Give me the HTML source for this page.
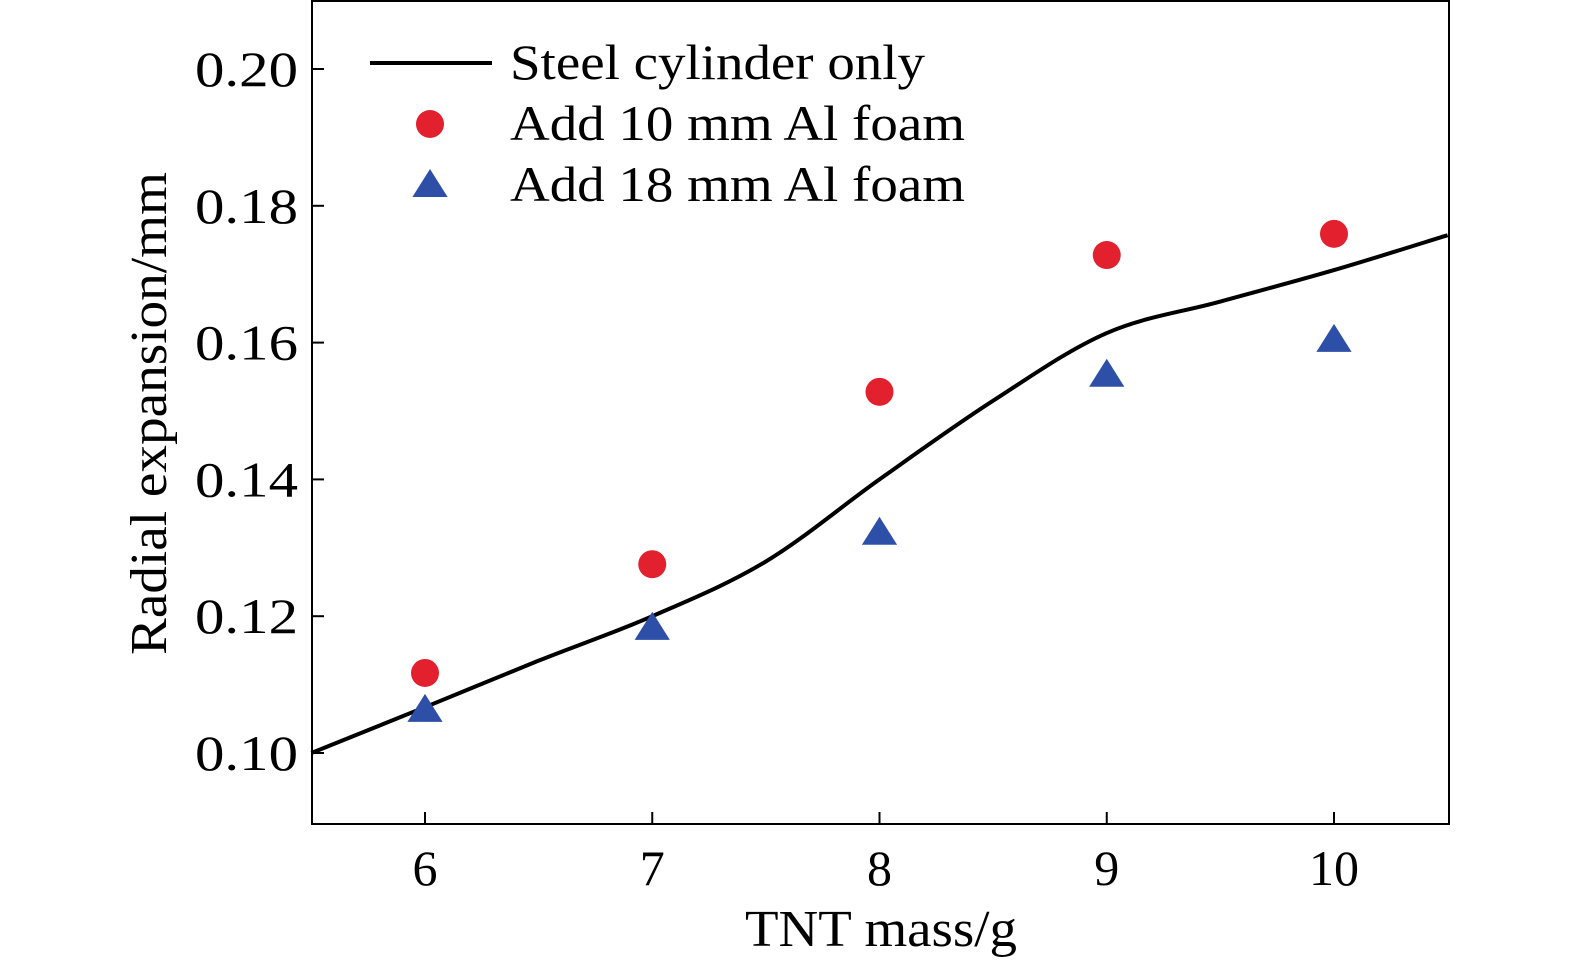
<!DOCTYPE html>
<html><head><meta charset="utf-8"><style>
html,body{margin:0;padding:0;background:#fff;}
svg{display:block;font-family:"Liberation Serif",serif;}
</style></head><body>
<svg id="chart" width="1575" height="966">
<g id="plot"></g>
</svg>
<script>
const lineX=[5.5,6,6.5,7,7.5,8,8.5,9,9.5,10,10.5];
const lineY=[0.100,0.1067,0.1135,0.1200,0.1280,0.1400,0.1515,0.1614,0.1660,0.1706,0.1757];
const massX=[6,7,8,9,10];
const al10=[0.1117,0.1276,0.1528,0.1728,0.1759];
const al18=[0.1063,0.1183,0.1322,0.1553,0.1604];
const xTicks=[6,7,8,9,10];
const yTicks=[0.10,0.12,0.14,0.16,0.18,0.20];
const yTickLabels=["0.10","0.12","0.14","0.16","0.18","0.20"];

const L=312,R=1449,T=1,B=824;
const sx=v=>425+(v-6)*227.25;
const sy=v=>753-(v-0.10)*6840;
const NS="http://www.w3.org/2000/svg";
const g=document.getElementById('plot');
function mk(tag,attrs,parent){const e=document.createElementNS(NS,tag);for(const k in attrs)e.setAttribute(k,attrs[k]);(parent||g).appendChild(e);return e;}

const frame=mk('rect',{x:L,y:T,width:R-L,height:B-T,fill:'none',stroke:'#000','stroke-width':2});



xTicks.forEach(v=>{
  const t=mk('line',{x1:sx(v),x2:sx(v),y1:B,y2:B-12,stroke:'#000','stroke-width':2});
  
  
  const l=mk('text',{x:sx(v),y:885,'font-size':50,'text-anchor':'middle'});
  l.textContent=v;
  
  
});
yTicks.forEach((v,i)=>{
  const t=mk('line',{x1:L,x2:L+12,y1:sy(v),y2:sy(v),stroke:'#000','stroke-width':2});
  
  
  const l=mk('text',{x:195,y:sy(v)+17,'font-size':50,textLength:103,lengthAdjust:'spacingAndGlyphs'});
  l.textContent=yTickLabels[i];
  
  
});

const xt=mk('text',{x:745,y:946,'font-size':52,textLength:272,lengthAdjust:'spacingAndGlyphs'});
xt.textContent='TNT mass/g';


const yt=mk('text',{x:0,y:0,'font-size':52,textLength:483,lengthAdjust:'spacingAndGlyphs',transform:'translate(166,655) rotate(-90)'});
yt.textContent='Radial expansion/mm';



const P=lineX.map((x,i)=>[sx(x),sy(lineY[i])]);
let d=`M${P[0][0]},${P[0][1]}`;
for(let i=0;i<P.length-1;i++){
  const p0=P[Math.max(0,i-1)],p1=P[i],p2=P[i+1],p3=P[Math.min(P.length-1,i+2)];
  const c1=[p1[0]+(p2[0]-p0[0])/6,p1[1]+(p2[1]-p0[1])/6];
  const c2=[p2[0]-(p3[0]-p1[0])/6,p2[1]-(p3[1]-p1[1])/6];
  d+=` C${c1[0]},${c1[1]} ${c2[0]},${c2[1]} ${p2[0]},${p2[1]}`;
}
const line=mk('path',{d:d,fill:'none',stroke:'#000','stroke-width':4});



function tri(cx,cy,s){return `${cx},${cy-s} ${cx-s*1.1},${cy+s*0.75} ${cx+s*1.1},${cy+s*0.75}`;}
massX.forEach((x,i)=>{
  const c=mk('circle',{cx:sx(x),cy:sy(al10[i]),r:14,fill:'#e3202e'});
  
  
  const t=mk('polygon',{points:tri(sx(x),sy(al18[i]),16),fill:'#2e4fa8'});
  
  
});

const lg=mk('g',{});


const ll=mk('line',{x1:370,x2:492,y1:63,y2:63,stroke:'#000','stroke-width':4},lg);


const lc=mk('circle',{cx:430,cy:124,r:14,fill:'#e3202e'},lg);


const lt=mk('polygon',{points:tri(430,185,16),fill:'#2e4fa8'},lg);


const legW=[415,455,455];
["Steel cylinder only","Add 10 mm Al foam","Add 18 mm Al foam"].forEach((s,i)=>{
  const t=mk('text',{x:510,y:79+i*61,'font-size':50,textLength:legW[i],lengthAdjust:'spacingAndGlyphs'},lg);
  t.textContent=s;
  
  
});
</script>
</body></html>
